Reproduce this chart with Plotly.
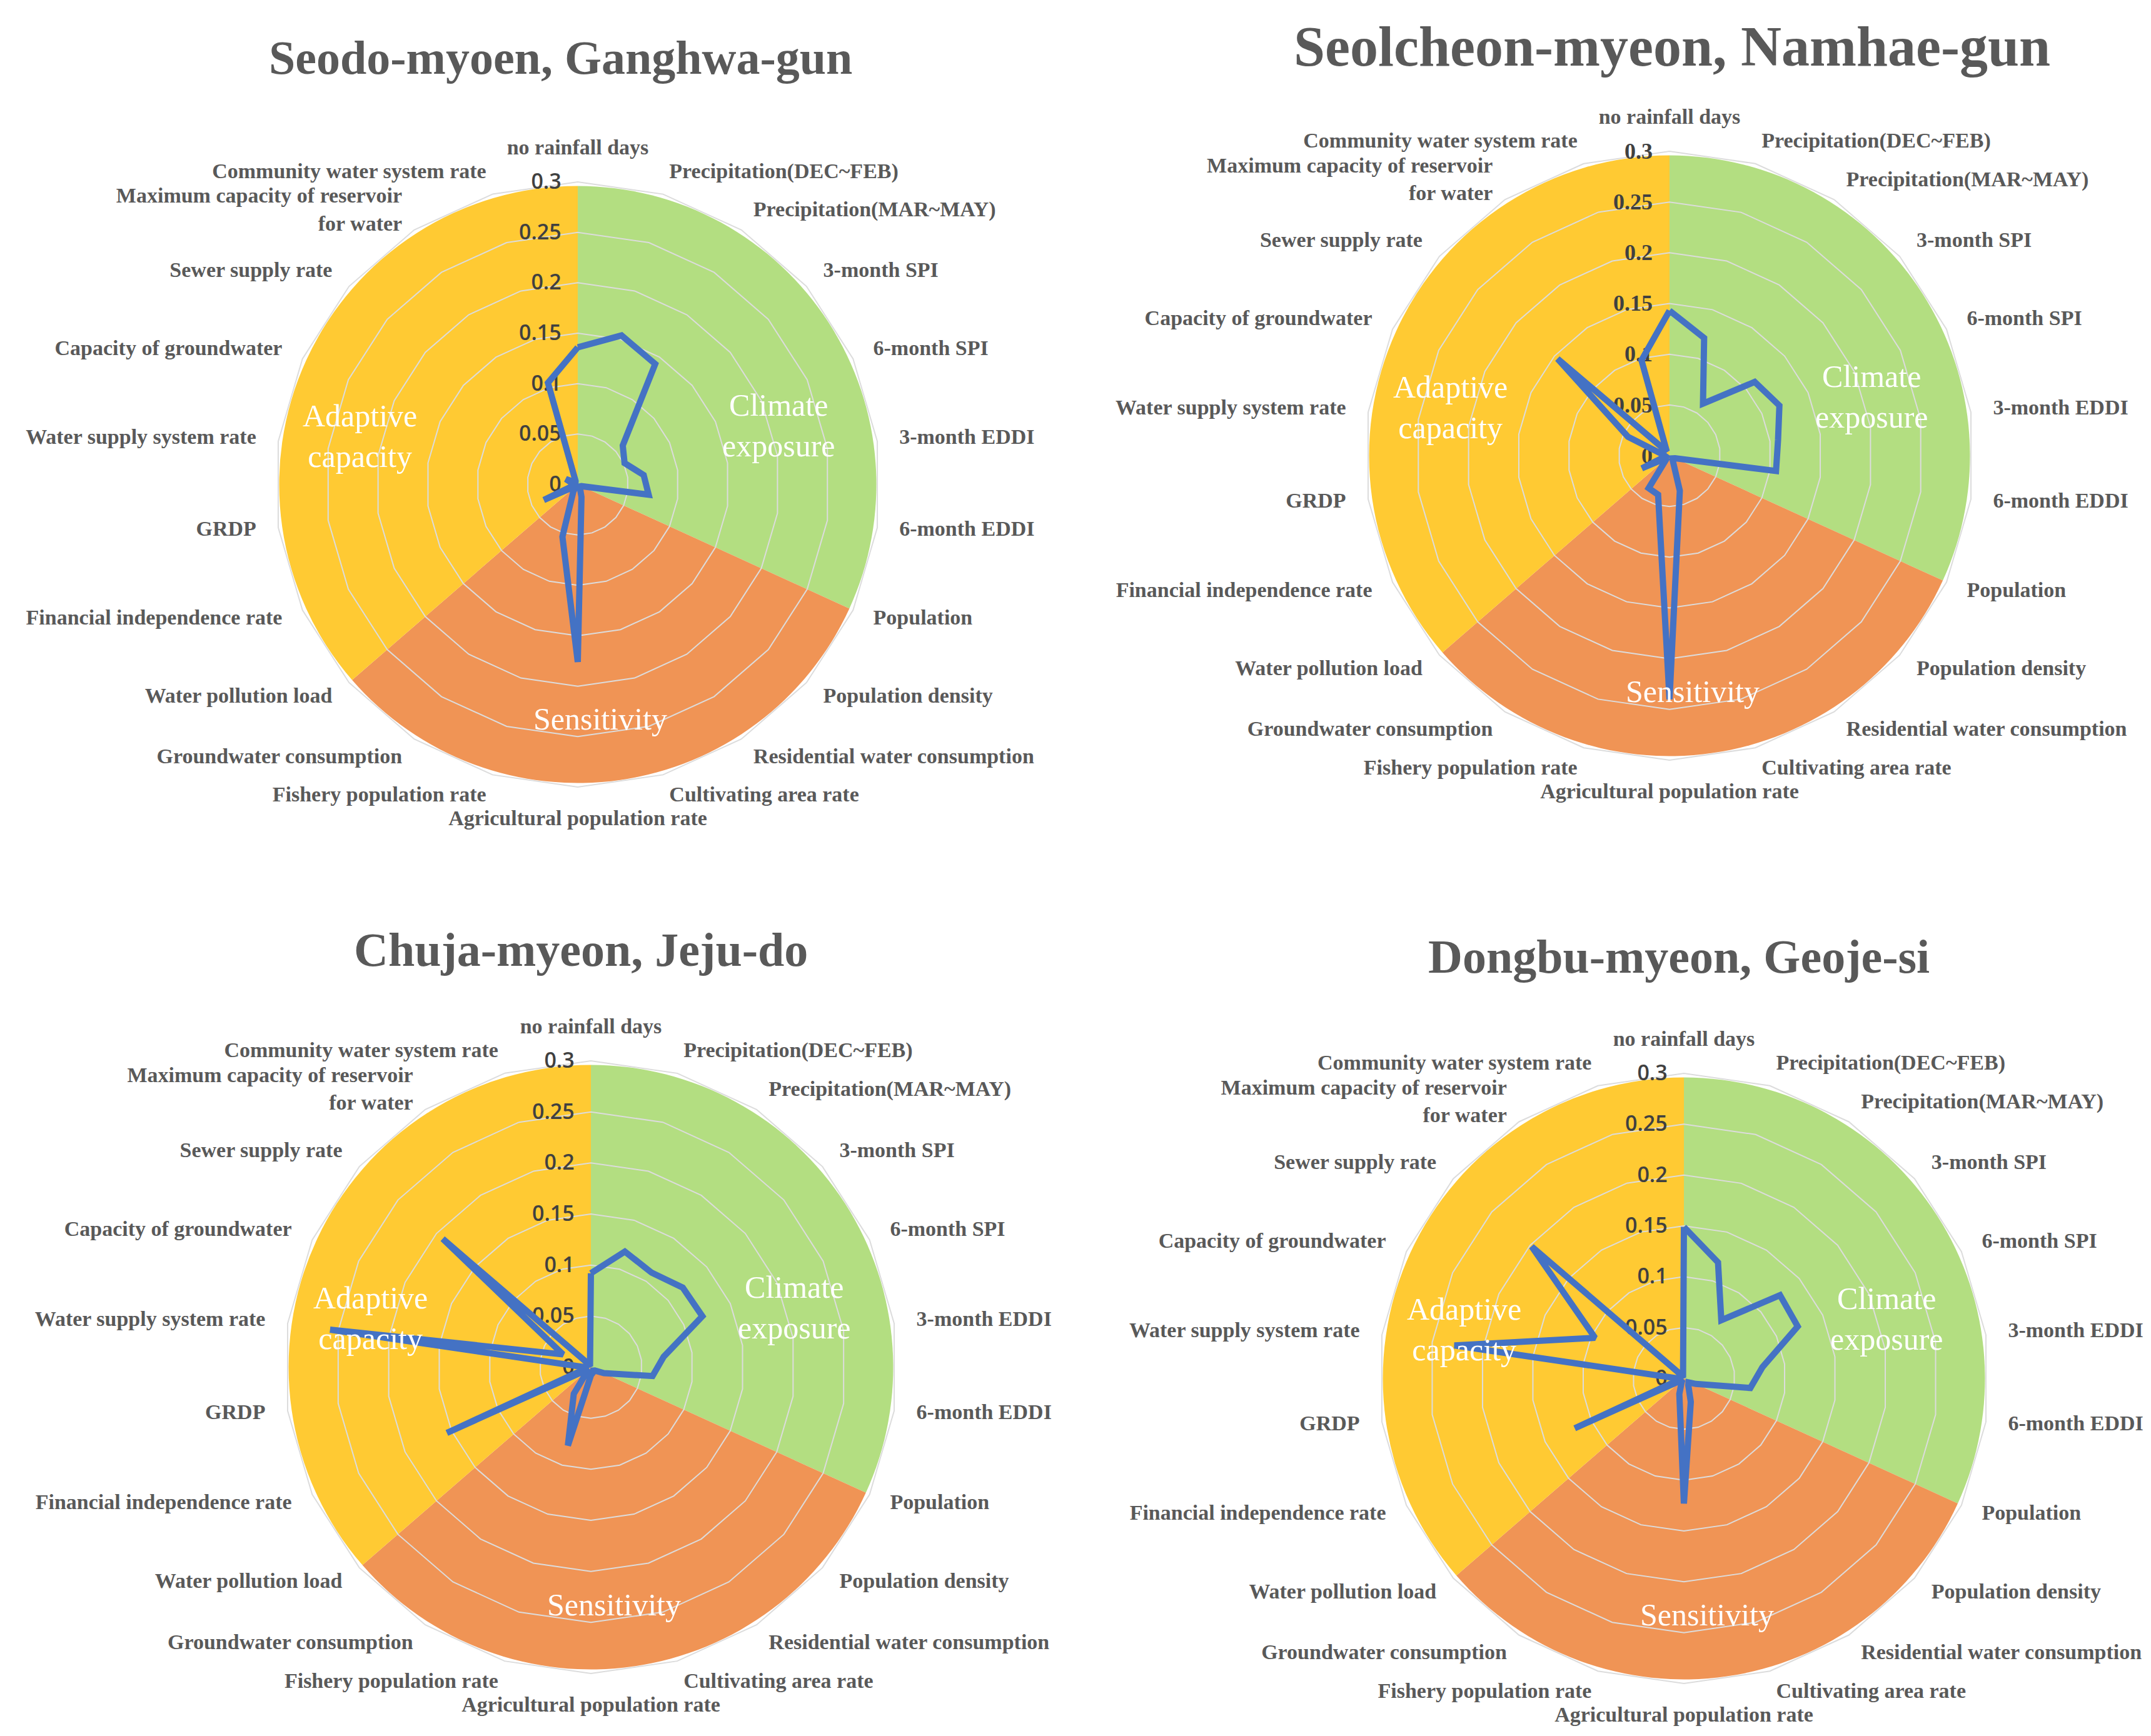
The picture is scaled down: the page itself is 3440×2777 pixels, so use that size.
import plotly.graph_objects as go

W, H = 3440, 2777

categories = [
    "no rainfall days", "Precipitation(DEC~FEB)", "Precipitation(MAR~MAY)",
    "3-month SPI", "6-month SPI", "3-month EDDI", "6-month EDDI",
    "Population", "Population density", "Residential water consumption",
    "Cultivating area rate", "Agricultural population rate",
    "Fishery population rate", "Groundwater consumption",
    "Water pollution load", "Financial independence rate", "GRDP",
    "Water supply system rate", "Capacity of groundwater",
    "Sewer supply rate", "Maximum capacity of reservoir<br>for water",
    "Community water system rate",
]

seodo = [0.136, 0.154, 0.142, 0.059, 0.051, 0.066, 0.071, 0.004, 0.003, 0.004,
         0.013, 0.176, 0.054, 0.008, 0.002, 0.037, 0.003, 0.005, 0.013, 0.003,
         0.004, 0.105]
seolcheon = [0.143, 0.121, 0.061, 0.111, 0.119, 0.108, 0.106, 0.006, 0.004, 0.006,
             0.036, 0.240, 0.040, 0.038, 0.003, 0.030, 0.004, 0.006, 0.045, 0.146,
             0.005, 0.098]
chuja = [0.092, 0.118, 0.110, 0.119, 0.120, 0.072, 0.061, 0.014, 0.005, 0.004,
         0.006, 0.008, 0.080, 0.031, 0.003, 0.155, 0.003, 0.258, 0.030, 0.192,
         0.003, 0.003]
dongbu = [0.149, 0.119, 0.068, 0.125, 0.123, 0.078, 0.066, 0.013, 0.006, 0.008,
          0.024, 0.123, 0.016, 0.004, 0.002, 0.118, 0.003, 0.228, 0.096, 0.198,
          0.003, 0.003]

titles = ["Seodo-myoen, Ganghwa-gun", "Seolcheon-myeon, Namhae-gun",
          "Chuja-myeon, Jeju-do", "Dongbu-myeon, Geoje-si"]
series = [seodo, seolcheon, chuja, dongbu]

radial_ticks = [0, 0.05, 0.1, 0.15, 0.2, 0.25, 0.3]
radial_labels = ["0", "0.05", "0.1", "0.15", "0.2", "0.25", "0.3"]

sector_names = ["Climate<br>exposure", "Sensitivity", "Adaptive<br>capacity"]
sector_start = [0, 7, 14]
sector_end = [7, 14, 22]
sector_colors = ["#B3DE81", "#F09455", "#FFCA33"]

# layout (pixels): centre x, centre y, radius of the 0.3 polygon
centers = [(916, 767, 484), (2662, 721, 487), (937, 2179, 490), (2685, 2197, 488)]
title_pos = [(889, 84, 76), (2666, 66, 90), (921, 1511, 76), (2677, 1522, 76)]
radial_fonts = [
    dict(family="Open Sans", size=34, color="#404040", weight=600),
    dict(family="Liberation Serif", size=36, color="#404040", weight="bold"),
    dict(family="Open Sans", size=34, color="#404040", weight=600),
    dict(family="Open Sans", size=34, color="#404040", weight=600),
]
# sector label offsets relative to radius (x right, y down)
label_offsets = [(0.665, -0.195), (0.075, 0.775), (-0.72, -0.16)]

n = len(categories)
step = 360.0 / n
r_top = 0.3
r_max = 0.345          # axis range, leaves room for the category labels
pie_r = 0.296
label_r = 0.322


def text_position(k):
    ang = k * step
    if ang < 1e-6:
        return "top center"
    if abs(ang - 180) < 1e-6:
        return "bottom center"
    return "middle right" if ang < 180 else "middle left"


label_positions = [text_position(k) for k in range(n)]

fig = go.Figure()
annotations = []
layout_polars = {}

for i in range(4):
    cx, cy, R = centers[i]
    Rd = R * r_max / r_top
    dom = dict(x=[(cx - Rd) / W, (cx + Rd) / W], y=[1 - (cy + Rd) / H, 1 - (cy - Rd) / H])
    bg_id = "polar" if i == 0 else f"polar{i + 1}"
    fg_id = f"polar{i + 5}"

    fig.add_trace(go.Barpolar(
        r=[pie_r] * 3,
        theta=[(s + e) / 2 * step for s, e in zip(sector_start, sector_end)],
        width=[(e - s) * step for s, e in zip(sector_start, sector_end)],
        marker=dict(color=sector_colors, line=dict(width=0)),
        subplot=bg_id, showlegend=False, hoverinfo="skip",
    ))
    vals = series[i]
    fig.add_trace(go.Scatterpolar(
        r=vals + [vals[0]], theta=categories + [categories[0]],
        mode="lines", line=dict(color="#4472C4", width=10),
        subplot=fg_id, showlegend=False,
    ))
    fig.add_trace(go.Scatterpolar(
        r=[label_r] * n, theta=categories, text=categories,
        mode="text", textposition=label_positions, cliponaxis=False,
        textfont=dict(family="Liberation Serif", size=34, color="#595959",
                      weight="bold"),
        subplot=fg_id, showlegend=False, hoverinfo="skip",
    ))

    layout_polars[bg_id] = dict(
        domain=dom, bgcolor="rgba(0,0,0,0)",
        radialaxis=dict(range=[0, r_max], visible=False),
        angularaxis=dict(direction="clockwise", rotation=90, visible=False),
    )
    layout_polars[fg_id] = dict(
        domain=dom, bgcolor="rgba(0,0,0,0)", gridshape="linear",
        radialaxis=dict(range=[0, r_max], tickmode="array", tickvals=radial_ticks,
                        ticktext=radial_labels, angle=90, side="counterclockwise",
                        showline=False, gridcolor="#DCDCDC", gridwidth=2,
                        ticks="outside", ticklen=14, tickcolor="rgba(0,0,0,0)",
                        tickangle=90, layer="below traces",
                        tickfont=radial_fonts[i]),
        angularaxis=dict(type="category", categoryarray=categories,
                         direction="clockwise", rotation=90, showgrid=False,
                         showline=False, ticks="", showticklabels=False),
    )

    tx, ty, ts = title_pos[i]
    annotations.append(dict(
        text=titles[i], x=tx / W, y=1 - ty / H, xref="paper", yref="paper",
        showarrow=False, xanchor="center", yanchor="middle",
        font=dict(family="Liberation Serif", size=ts, color="#595959", weight="bold"),
    ))
    for name, (ox, oy) in zip(sector_names, label_offsets):
        annotations.append(dict(
            text=name, x=(cx + ox * R) / W, y=1 - (cy + oy * R) / H,
            xref="paper", yref="paper", showarrow=False,
            xanchor="center", yanchor="middle",
            font=dict(family="Liberation Serif", size=50, color="white"),
        ))

fig.update_layout(
    width=W, height=H, margin=dict(l=0, r=0, t=0, b=0),
    paper_bgcolor="white", plot_bgcolor="white",
    annotations=annotations, showlegend=False,
    **layout_polars,
)

fig.write_html("out.html")
